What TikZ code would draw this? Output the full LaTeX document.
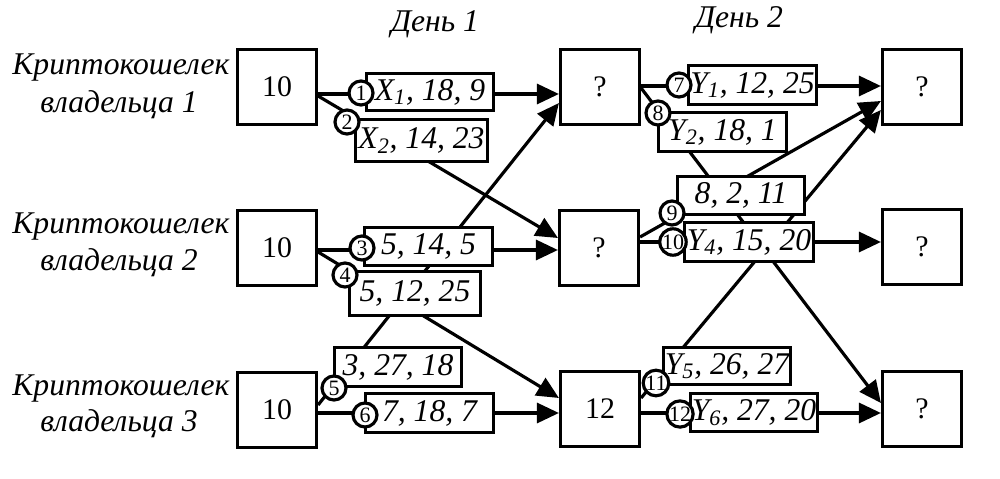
\documentclass[tikz,border=0pt]{standalone}
\usepackage{fontspec}
\setmainfont{Liberation Serif}
\usetikzlibrary{arrows.meta,calc}
\begin{document}
\begin{tikzpicture}[x=0.02cm,y=-0.02cm,
  lw/.style={line width=1.8pt},
  bigbox/.style={draw,lw,fill=white,minimum width=1.58cm,minimum height=1.5cm,inner sep=0pt,font=\fontsize{17}{20}\selectfont},
  lbl/.style={draw,lw,fill=white,inner sep=0pt,font=\fontsize{18}{20}\selectfont\itshape},
  num/.style={circle,draw,lw,fill=white,inner sep=0pt,minimum size=0.48cm,font=\fontsize{12.5}{12.5}\selectfont},
  conn/.style={lw,-{Triangle[length=0.44cm,width=0.40cm]}},
  captext/.style={font=\fontsize{18}{20}\selectfont\itshape,anchor=base,inner sep=0pt}]
\useasboundingbox (0,0) rectangle (1000,479);

% captions
\node[captext] (t1a) at (121,75) {Криптокошелек};
\node[captext] (t1b) at (119,113) {владельца 1};
\node[captext] (t2a) at (121,234) {Криптокошелек};
\node[captext] (t2b) at (119,271) {владельца 2};
\node[captext] (t3a) at (121,395) {Криптокошелек};
\node[captext] (t3b) at (119,431) {владельца 3};
\node[captext] (day1) at (435,32) {День 1};
\node[captext] (day2) at (739,28) {День 2};

% main boxes
\node[bigbox] (w1) at (277,87) {10};
\node[bigbox] (w2) at (277,248) {10};
\node[bigbox] (w3) at (277,410) {10};
\node[bigbox] (d1a) at (600,87) {?};
\node[bigbox] (d1b) at (599,248) {?};
\node[bigbox] (d1c) at (600,409) {12};
\node[bigbox] (d2a) at (922,87) {?};
\node[bigbox] (d2b) at (922,247) {?};
\node[bigbox] (d2c) at (922,409) {?};

% connectors
\draw[conn] ($(w1.east)+(0,7)$) coordinate (s1) -- (s1 -| d1a.west);
\draw[conn] ($(w1.east)+(0,9)$) -- ($(d1b.west)+(0,-10)$);
\draw[conn] ($(w2.east)+(0,2)$) coordinate (s3) -- (s3 -| d1b.west);
\draw[conn] ($(w2.east)+(0,4)$) -- ($(d1c.west)+(0,-11)$);
\draw[conn] ($(w3.east)+(0,-5)$) -- ($(d1a.west)+(0,16)$);
\draw[conn] ($(w3.east)+(0,3)$) coordinate (s6) -- (s6 -| d1c.west);
\draw[conn] ($(d1a.east)+(0,-1)$) coordinate (s7) -- (s7 -| d2a.west);
\draw[conn] ($(d1a.east)+(0,1)$) -- ($(d2c.west)+(0,-6)$);
\draw[conn] ($(d1b.east)+(0,-11)$) -- ($(d2a.west)+(0,14)$);
\draw[conn] ($(d1b.east)+(0,-6)$) coordinate (s10) -- (s10 -| d2b.west);
\draw[conn] ($(d1c.east)+(0,-11)$) -- ($(d2a.west)+(0,23)$);
\draw[conn] ($(d1c.east)+(0,4)$) coordinate (s12) -- (s12 -| d2c.west);

% label boxes
\node[lbl,minimum width=2.54cm,minimum height=0.74cm] (l1) at (430,92) {X\textsubscript{1}, 18, 9};
\node[lbl,minimum width=2.64cm,minimum height=0.84cm] (l2) at (421.5,140.5) {X\textsubscript{2}, 14, 23};
\node[lbl,minimum width=2.56cm,minimum height=0.76cm] (l3) at (428.5,246.5) {5, 14, 5};
\node[lbl,minimum width=2.62cm,minimum height=0.88cm] (l4) at (415,293.5) {5, 12, 25};
\node[lbl,minimum width=2.54cm,minimum height=0.78cm] (l5) at (398,367) {3, 27, 18};
\node[lbl,minimum width=2.56cm,minimum height=0.78cm] (l6) at (429.5,413) {7, 18, 7};
\node[lbl,minimum width=2.56cm,minimum height=0.78cm] (l7) at (752.5,85) {Y\textsubscript{1}, 12, 25};
\node[lbl,minimum width=2.56cm,minimum height=0.78cm] (l8) at (722.5,132) {Y\textsubscript{2}, 18, 1};
\node[lbl,minimum width=2.54cm,minimum height=0.76cm] (l9) at (741,195.5) {8, 2, 11};
\node[lbl,minimum width=2.58cm,minimum height=0.78cm] (l10) at (749,242) {Y\textsubscript{4}, 15, 20};
\node[lbl,minimum width=2.54cm,minimum height=0.74cm] (l11) at (727,366) {Y\textsubscript{5}, 26, 27};
\node[lbl,minimum width=2.54cm,minimum height=0.76cm] (l12) at (754,412.5) {Y\textsubscript{6}, 27, 20};

% numbered circles
\node[num] (c1) at (361,93) {1};
\node[num] (c2) at (347,122) {2};
\node[num] (c3) at (362,248) {3};
\node[num] (c4) at (345,275) {4};
\node[num] (c5) at (334,388) {5};
\node[num] (c6) at (365,415) {6};
\node[num] (c7) at (679,85) {7};
\node[num] (c8) at (658,113) {8};
\node[num] (c9) at (672,213) {9};
\node[num] (c10) at (673,242) {10};
\node[num] (c11) at (656,383) {11};
\node[num] (c12) at (680,414) {12};
\end{tikzpicture}
\end{document}
